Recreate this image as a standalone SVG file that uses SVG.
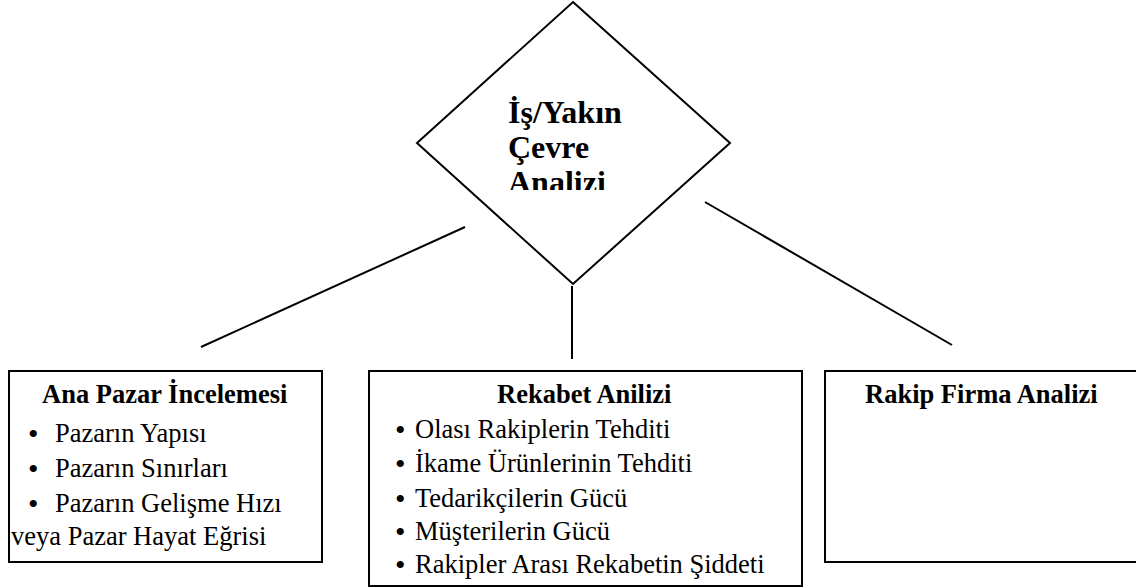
<svg xmlns="http://www.w3.org/2000/svg" width="1136" height="587" viewBox="0 0 1136 587" font-family="'Liberation Serif', 'DejaVu Serif', 'Times New Roman', serif">
  <style>
    .shape { fill: #fff; stroke: #000; stroke-width: 2; }
    .link { stroke: #000; stroke-width: 2; fill: none; }
    text { font-family: 'Liberation Serif', 'DejaVu Serif', 'Times New Roman', serif; fill: #000; }
    .head { font-size: 32px; font-weight: bold; }
    .title { font-size: 26.5px; font-weight: bold; }
    .item { font-size: 26.5px; }
    .dot { font-size: 30px; }
  </style>
  <defs>
    <clipPath id="diamondText">
      <rect x="480" y="80" width="180" height="110"/>
    </clipPath>
  </defs>
  <rect width="1136" height="587" fill="#fff"/>

  <!-- central decision diamond -->
  <g id="node-center">
    <polygon class="shape" points="573,2 730,143 573,284 417,143"/>
    <g clip-path="url(#diamondText)">
      <text class="head" x="508" y="123">İş/Yakın</text>
      <text class="head" x="508" y="158">Çevre</text>
      <text class="head" x="508" y="193">Analizi</text>
    </g>
  </g>

  <!-- connectors from the diamond to the three boxes -->
  <g id="connectors">
    <line class="link" x1="465" y1="227" x2="201" y2="347"/>
    <line class="link" x1="572" y1="286" x2="572" y2="359"/>
    <line class="link" x1="705" y1="202" x2="952" y2="345"/>
  </g>

  <!-- left box -->
  <g id="node-market">
    <rect class="shape" x="9" y="371" width="313" height="191"/>
    <text class="title" x="42" y="403">Ana Pazar İncelemesi</text>
    <text class="dot" x="28" y="444">•</text>
    <text class="item" x="55" y="442">Pazarın Yapısı</text>
    <text class="dot" x="28" y="479">•</text>
    <text class="item" x="55" y="477">Pazarın Sınırları</text>
    <text class="dot" x="28" y="514">•</text>
    <text class="item" x="55" y="512">Pazarın Gelişme Hızı</text>
    <text class="item" x="11" y="545">veya Pazar Hayat Eğrisi</text>
  </g>

  <!-- middle box -->
  <g id="node-competition">
    <rect class="shape" x="369" y="371" width="433" height="215"/>
    <text class="title" x="497" y="403">Rekabet Anilizi</text>
    <text class="dot" x="395" y="440">•</text>
    <text class="item" x="415" y="438">Olası Rakiplerin Tehditi</text>
    <text class="dot" x="395" y="474">•</text>
    <text class="item" x="415" y="472">İkame Ürünlerinin Tehditi</text>
    <text class="dot" x="395" y="509">•</text>
    <text class="item" x="415" y="507">Tedarikçilerin Gücü</text>
    <text class="dot" x="395" y="542">•</text>
    <text class="item" x="415" y="540">Müşterilerin Gücü</text>
    <text class="dot" x="395" y="575">•</text>
    <text class="item" x="415" y="573">Rakipler Arası Rekabetin Şiddeti</text>
  </g>

  <!-- right box -->
  <g id="node-rival">
    <rect class="shape" x="825" y="371" width="320" height="191"/>
    <text class="title" x="865" y="403">Rakip Firma Analizi</text>
  </g>
</svg>
